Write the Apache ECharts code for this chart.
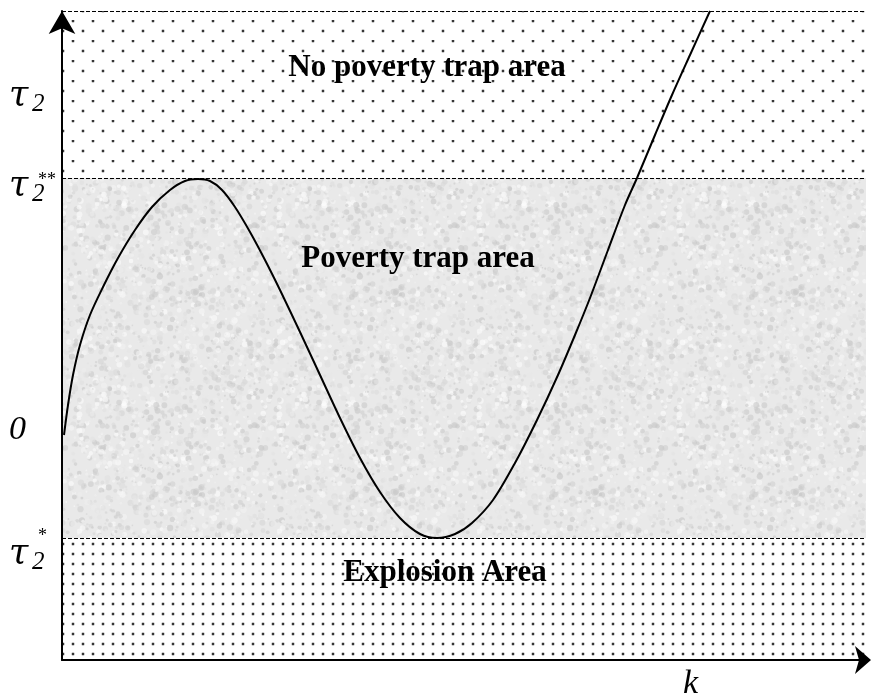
<!DOCTYPE html>
<html>
<head>
<meta charset="utf-8">
<script src="https://cdn.jsdelivr.net/npm/echarts@6/dist/echarts.min.js"></script>
<style>
  html, body { margin: 0; padding: 0; background: #fff; }
  #chart { width: 871px; height: 699px; }
</style>
</head>
<body>
<div id="chart"></div>
<script>
// Capital stock k along the horizontal axis
const kValues = [0.2, 0.6, 1.1, 1.8, 2.8, 4.1, 5.6, 7.3, 9.0, 10.8, 12.3, 13.6, 14.8, 16.0, 17.3,
  18.8, 20.3, 21.8, 23.8, 25.8, 27.8, 29.8, 31.8, 33.8, 35.8, 37.5, 39.3, 41.0, 43.1, 45.3,
  47.5, 49.6, 51.3, 52.8, 54.6, 56.3, 57.5, 59.3, 61.0, 62.8, 64.8];
// Tax threshold curve tau2(k)
const tauValues = [0.2, 3.2, 6.2, 9.2, 12.2, 15.0, 17.9, 20.7, 23.0, 24.7, 25.6, 25.8, 25.6, 24.7, 23.0,
  20.5, 17.7, 14.7, 10.5, 6.2, 1.9, -2.1, -5.5, -8.1, -9.7, -10.1, -9.7, -8.6, -6.3, -2.6,
  1.7, 6.2, 10.2, 13.9, 18.7, 23.2, 25.9, 30.2, 34.2, 38.2, 42.6];

// Thresholds separating the regions
const tauLow = -10.1;   // tau2*
const tauHigh = 25.9;   // tau2**
const yMin = -22.3;
const yMax = 42.6;
const xMin = 0;
const xMax = 80.4;

// Region captions
const regionLabels = ['No poverty trap area', 'Poverty trap area', 'Explosion Area'];

// Axis tick labels (symbol, subscript, superscript) at their values
const yTickValues = [34.1, tauHigh, 0, tauLow];
const yTickMain = ['τ', 'τ', '0', 'τ'];
const yTickSub = ['2', '2', '', '2'];
const yTickSup = ['', '**', '', '*'];
const xAxisName = 'k';

// ---- fill patterns ----
function dotPattern(w, h, dots) {
  const c = document.createElement('canvas');
  c.width = w; c.height = h;
  const ctx = c.getContext('2d');
  ctx.fillStyle = '#ffffff';
  ctx.fillRect(0, 0, w, h);
  dots.forEach(function (d) {
    ctx.fillStyle = 'rgba(90,90,90,0.55)';
    ctx.beginPath(); ctx.arc(d[0], d[1], 1.7, 0, Math.PI * 2); ctx.fill();
    ctx.fillStyle = '#111';
    ctx.beginPath(); ctx.arc(d[0], d[1], 1.0, 0, Math.PI * 2); ctx.fill();
  });
  return c;
}

// speckled light-grey stone texture, drawn wrapped so tiles join seamlessly
function granite(size) {
  const c = document.createElement('canvas');
  c.width = size; c.height = size;
  const ctx = c.getContext('2d');
  ctx.fillStyle = '#e9e9e9';
  ctx.fillRect(0, 0, size, size);
  let s = 12345;
  function next() { s = (s * 1103515245 + 12345) % 2147483648; return s / 2147483648; }
  for (let i = 0; i < 1600; i++) {
    const x = next() * size, y = next() * size, r = 0.8 + next() * 2.4;
    const g = Math.round(198 + next() * 57);
    ctx.fillStyle = 'rgba(' + g + ',' + g + ',' + g + ',0.6)';
    for (let dx = -1; dx <= 1; dx++) {
      for (let dy = -1; dy <= 1; dy++) {
        ctx.beginPath(); ctx.arc(x + dx * size, y + dy * size, r, 0, Math.PI * 2); ctx.fill();
      }
    }
  }
  return c;
}

const topFill = { image: dotPattern(20, 20, [[13, 1], [3, 11]]), repeat: 'repeat' };
const bottomFill = { image: dotPattern(10, 10, [[3, 4]]), repeat: 'repeat' };
const middleFill = { image: granite(200), repeat: 'repeat' };

const serif = '"Liberation Serif", "Times New Roman", serif';
const greek = '"DejaVu Serif", "Liberation Serif", serif';

const chart = echarts.init(document.getElementById('chart'), null, { renderer: 'canvas' });

const axisCommon = {
  type: 'value',
  z: 10,
  splitLine: { show: false },
  axisTick: { show: false },
  axisLabel: { show: false }
};

const regionLabelStyle = {
  show: true,
  position: 'insideTop',
  color: '#000',
  fontFamily: serif,
  fontWeight: 'bold',
  fontSize: 31
};

chart.setOption({
  animation: false,
  grid: { left: 62, right: 5, top: 11, bottom: 39 },
  xAxis: Object.assign({}, axisCommon, {
    min: xMin, max: xMax,
    axisLine: { show: true, onZero: false, lineStyle: { color: '#000', width: 2 },
      symbol: ['none', 'arrow'], symbolSize: [21, 16], symbolOffset: [0, 5] }
  }),
  yAxis: Object.assign({}, axisCommon, {
    min: yMin, max: yMax,
    axisLine: { show: true, onZero: false, lineStyle: { color: '#000', width: 2 },
      symbol: ['none', 'arrow'], symbolSize: [20, 23], symbolOffset: [0, 0] }
  }),
  series: [
    {
      // region backgrounds
      type: 'line', z: 1, data: [], silent: true,
      markArea: {
        silent: true,
        data: [
          [{ yAxis: tauHigh, itemStyle: { color: topFill },
             label: Object.assign({}, regionLabelStyle, { offset: [-37, 36] }), name: regionLabels[0] },
           { yAxis: yMax }],
          [{ yAxis: tauLow, itemStyle: { color: middleFill },
             label: Object.assign({}, regionLabelStyle, { offset: [-46, 60] }), name: regionLabels[1] },
           { yAxis: tauHigh }],
          [{ yAxis: yMin, itemStyle: { color: bottomFill },
             label: Object.assign({}, regionLabelStyle, { offset: [-19, 14] }), name: regionLabels[2] },
           { yAxis: tauLow }]
        ]
      },
      markLine: {
        silent: true,
        symbol: ['none', 'none'],
        label: { show: false },
        lineStyle: { color: '#000', width: 1, type: [4, 2] },
        data: [{ yAxis: yMax }, { yAxis: tauHigh }, { yAxis: tauLow }, { yAxis: yMin }]
      }
    },
    {
      type: 'line', z: 3,
      data: kValues.map(function (k, i) { return [k, tauValues[i]]; }),
      smooth: 0.3,
      showSymbol: false,
      lineStyle: { color: '#000', width: 2 }
    }
  ]
});

// Axis labels placed at their values on the scales
const graphics = [];
const supLift = [0, 11, 0, 23];
const baseDrop = [14, 22, 10, 30];
yTickValues.forEach(function (v, i) {
  const py = chart.convertToPixel({ yAxisIndex: 0 }, v);
  const base = py + baseDrop[i];
  const isSymbol = yTickMain[i] === 'τ';
  graphics.push({
    type: 'text', x: 9, y: isSymbol ? base + 4 : base,
    style: { text: yTickMain[i], font: 'italic ' + (isSymbol ? '35px ' + greek : '34px ' + serif),
      fill: '#000', textVerticalAlign: 'bottom' }
  });
  if (yTickSub[i]) {
    graphics.push({
      type: 'text', x: 32, y: base + 7,
      style: { text: yTickSub[i], font: 'italic 25px ' + serif, fill: '#000', textVerticalAlign: 'bottom' }
    });
  }
  if (yTickSup[i]) {
    graphics.push({
      type: 'text', x: 38, y: base - supLift[i],
      style: { text: yTickSup[i], font: '18px ' + serif, fill: '#000', textVerticalAlign: 'bottom' }
    });
  }
});
const pk = chart.convertToPixel({ xAxisIndex: 0 }, 62.1);
const pBottom = chart.convertToPixel({ yAxisIndex: 0 }, yMin);
graphics.push({
  type: 'text', x: pk, y: pBottom + 41,
  style: { text: xAxisName, font: 'italic 34px ' + serif, fill: '#000', textVerticalAlign: 'bottom' }
});
chart.setOption({ graphic: graphics });
</script>
</body>
</html>
